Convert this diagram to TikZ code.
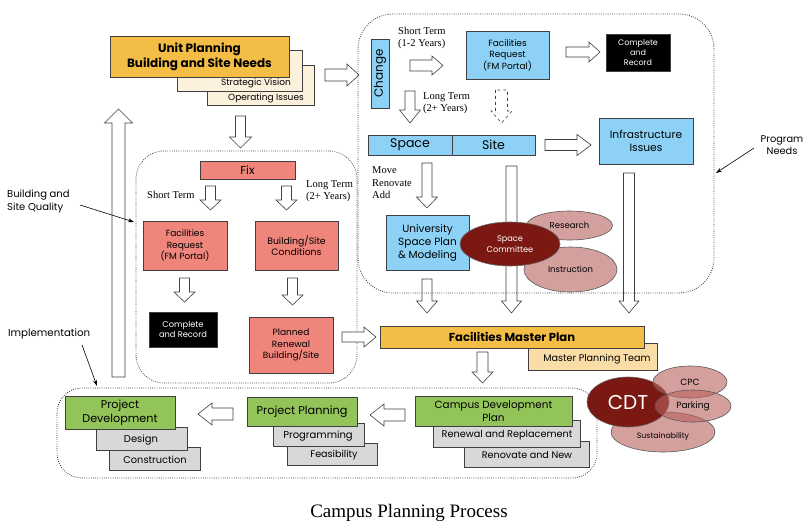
\documentclass[tikz,border=0pt]{standalone}
\usepackage{fontspec}
\setmainfont{Liberation Serif}
\setsansfont{Poppins}
\usetikzlibrary{shapes.geometric,shadows,arrows.meta}
\definecolor{orgA}{HTML}{F4BE46}
\definecolor{creamA}{HTML}{FCF1DD}
\definecolor{orgB}{HTML}{F9DCA6}
\definecolor{blueA}{HTML}{8DD2F6}
\definecolor{redA}{HTML}{F0857C}
\definecolor{greenA}{HTML}{93C45A}
\definecolor{grayA}{HTML}{D8D8D8}
\definecolor{darkR}{HTML}{7B1812}
\definecolor{lightR}{HTML}{B8625E}
\newcommand\fsz[2]{\fontsize{#1}{#2}\selectfont}
\newcommand\harr[7][]{%
  \pgfmathsetmacro\myhb{#3-#7*(#3-#2)/abs(#3-#2)}%
  \draw[barrow,#1] (#2,#4-#5) -- (\myhb,#4-#5) -- (\myhb,#4-#6) -- (#3,#4) -- (\myhb,#4+#6) -- (\myhb,#4+#5) -- (#2,#4+#5) -- cycle;}
\newcommand\varr[7][]{%
  \pgfmathsetmacro\myhb{#3-#7*(#3-#2)/abs(#3-#2)}%
  \draw[barrow,#1] (#4-#5,#2) -- (#4-#5,\myhb) -- (#4-#6,\myhb) -- (#4,#3) -- (#4+#6,\myhb) -- (#4+#5,\myhb) -- (#4+#5,#2) -- cycle;}
\tikzset{
  box/.style={draw=black!75, line width=0.6pt, align=center, inner sep=1pt, text=black,
    font=\sffamily\fsz{9}{11.5}, drop shadow={shadow xshift=1pt,shadow yshift=-1pt,opacity=0.25}},
  lbl/.style={inner sep=0pt, font=\sffamily\fsz{9}{10.5}, align=center},
  tlbl/.style={inner sep=0pt, font=\rmfamily\fsz{10.5}{12}, align=left, anchor=west},
  barrow/.style={draw=black!75, line width=0.6pt, fill=white},
  region/.style={draw=black!80, line width=0.8pt, dash pattern=on 0.8pt off 1.4pt},
  ellL/.style={ellipse, draw=black!65, line width=0.6pt, fill=lightR, fill opacity=0.6, text opacity=1, inner sep=0pt, font=\sffamily\fsz{8.5}{10}},
  ellD/.style={ellipse, draw=black!60, line width=0.6pt, fill=darkR, text=white, inner sep=0pt, align=center},
  thinarr/.style={draw=black, line width=0.6pt, -{Stealth[length=6pt,width=4pt]}}
}
\begin{document}
\begin{tikzpicture}[x=1pt,y=-1pt]
\fill[white] (0,0) rectangle (808,532);
\useasboundingbox (0,0) rectangle (808,532);

% ---------------- Unit planning group
\node[box, fill=creamA, minimum width=107, minimum height=40] (opiss) at (260.5,85) {};
\node[lbl] (opisst) at (266,98) {Operating Issues};
\node[box, fill=creamA, minimum width=125, minimum height=41] (stratv) at (239.5,70.5) {};
\node[lbl] (stratvt) at (256,83) {Strategic Vision};
\node[box, fill=orgA, minimum width=179, minimum height=41, font=\sffamily\bfseries\fsz{12}{15}] (unit) at (199.5,56.5) {Unit Planning\\Building and Site Needs};
\harr{325}{359}{75}{6}{11}{12}
\varr{116}{148}{240.5}{5}{11}{11}

% big up arrow
\varr{377}{109}{118.5}{6.5}{14}{14}

% ---------------- Top right region
\node[box, fill=blueA, minimum width=69, minimum height=18, rotate=90, font=\sffamily\fsz{12}{13}] (change) at (380,73.5) {Change};
\node[tlbl] (stt) at (398,38) {Short Term\\(1-2 Years)};
\harr{410}{443}{65.5}{5.5}{9.5}{11}
\node[box, fill=blueA, minimum width=83, minimum height=48] (frb) at (507.5,55) {Facilities\\Request\\(FM Portal)};
\harr{566}{600}{52}{5}{10}{11}
\node[box, fill=black, text=white, minimum width=64, minimum height=37, font=\sffamily\fsz{8}{10}] (cr1) at (638,52.5) {Complete\\and\\Record};
\varr{91}{123}{410}{5}{10.5}{13}
\node[tlbl] (ltt) at (423,103) {Long Term\\(2+ Years)};
\varr[dashed]{90}{123}{501.5}{6}{10.5}{12}
\node[box, fill=blueA, minimum width=84, minimum height=20, font=\sffamily\fsz{12.5}{13}] (space) at (410,145) {Space};
\node[box, fill=blueA, minimum width=83, minimum height=20, font=\sffamily\fsz{12.5}{13}] (site) at (493.5,145) {Site};
\harr{545}{591}{145}{5.5}{10.5}{14}
\node[box, fill=blueA, minimum width=94, minimum height=46, font=\sffamily\fsz{10.7}{13}] (infra) at (646,141) {Infrastructure\\Issues};
\node[tlbl, font=\rmfamily\fsz{10.5}{12.5}] (mra) at (372,183) {Move\\Renovate\\Add};
\varr{163}{208}{427}{5}{10.5}{11}
\varr{166}{313}{511.5}{5.5}{10}{12}
\varr{173}{313}{629}{5.5}{10}{12}
\node[box, fill=blueA, minimum width=83, minimum height=55, font=\sffamily\fsz{10.5}{13}] (usp) at (427.5,242.5) {University\\Space Plan\\\& Modeling};
\varr{279}{313}{427}{5}{10.5}{12}
\node[ellL, minimum width=86, minimum height=29] (research) at (569.5,225.5) {Research};
\node[ellL, minimum width=93, minimum height=45] (instr) at (570.5,269.5) {Instruction};
\node[ellD, minimum width=100, minimum height=44, font=\sffamily\fsz{8.2}{11}] (scom) at (510,244) {Space\\Committee};
\draw[region, rounded corners=35] (358,14) rectangle (714,293);
\node[lbl, font=\sffamily\fsz{9.8}{12}] (pneeds) at (782,145) {Program\\Needs};
\coordinate (pnS) at (754,148);
\coordinate (pnT) at (716,173);
\draw[thinarr] (pnS) -- (pnT);

% ---------------- Left region
\node[box, fill=redA, minimum width=95, minimum height=18, font=\sffamily\fsz{11.5}{13}] (fix) at (247.5,170) {Fix};
\node[tlbl] (stl) at (147,195) {Short Term};
\varr{186}{210}{210.5}{5}{10.5}{10}
\varr{186}{210}{286.5}{5}{10.5}{10}
\node[tlbl] (ltl) at (306,191) {Long Term\\(2+ Years)};
\node[box, fill=redA, minimum width=84, minimum height=49] (frr) at (185,245.5) {Facilities\\Request\\(FM Portal)};
\node[box, fill=redA, minimum width=83, minimum height=49, font=\sffamily\fsz{9.3}{11.5}] (bsc) at (296.5,245.5) {Building/Site\\Conditions};
\varr{278}{302}{184.5}{5}{10.5}{10}
\varr{278}{305}{292.5}{5}{10.5}{10}
\node[box, fill=black, text=white, minimum width=68, minimum height=35, font=\sffamily\fsz{8.3}{10}] (cr2) at (183,329.5) {Complete\\and Record};
\node[box, fill=redA, minimum width=84, minimum height=56] (prb) at (291,345) {Planned\\Renewal\\Building/Site};
\draw[region, rounded corners=28] (136,151) rectangle (357,383);
\harr{342}{376}{337}{5}{10}{12}

\node[lbl, font=\sffamily\fsz{10}{13}, align=left, anchor=west] (bsq) at (7,201) {Building and\\Site Quality};
\coordinate (bsqS) at (80,205);
\coordinate (bsqT) at (134,222);
\draw[thinarr] (bsqS) -- (bsqT);
\node[lbl, font=\sffamily\fsz{10.2}{12}, anchor=west] (impl) at (8,334) {Implementation};
\coordinate (implS) at (82,345);
\coordinate (implT) at (97,386);
\draw[thinarr] (implS) -- (implT);

% ---------------- Facilities master plan
\node[box, fill=orgB, minimum width=129, minimum height=27] (mpt) at (592.5,356.5) {};
\node[lbl, font=\sffamily\fsz{9.6}{11}] (mptt) at (597,359) {Master Planning Team};
\node[box, fill=orgA, minimum width=264, minimum height=22, font=\sffamily\bfseries\fsz{11.6}{13}] (fmp) at (512,337) {Facilities Master Plan};
\varr{352}{383}{482.5}{5.5}{10.5}{11}

% ---------------- Bottom region
\node[box, fill=grayA, minimum width=91, minimum height=23] (constr) at (154.5,458.5) {};
\node[lbl, font=\sffamily\fsz{9.8}{11}] (constrt) at (155,460) {Construction};
\node[box, fill=grayA, minimum width=91, minimum height=23] (design) at (141.5,438.5) {};
\node[lbl, font=\sffamily\fsz{10}{11}] (designt) at (141,440) {Design};
\node[box, fill=greenA, minimum width=110, minimum height=33, font=\sffamily\fsz{11.2}{14}] (pdev) at (120,412.5) {Project\\Development};
\harr{233}{198}{414}{6}{11}{14}
\node[box, fill=grayA, minimum width=90, minimum height=22] (feas) at (332,454) {};
\node[lbl, font=\sffamily\fsz{9.6}{11}] (feast) at (334,455) {Feasibility};
\node[box, fill=grayA, minimum width=91, minimum height=23] (progr) at (318.5,434.5) {};
\node[lbl, font=\sffamily\fsz{10}{11}] (progrt) at (318,436) {Programming};
\node[box, fill=greenA, minimum width=110, minimum height=29, font=\sffamily\fsz{11.3}{13}] (pplan) at (302,411.5) {Project Planning};
\harr{405}{370}{415}{6}{11}{14}
\node[box, fill=grayA, minimum width=125, minimum height=26] (rnew) at (526.5,454) {};
\node[lbl, font=\sffamily\fsz{9.6}{11}] (rnewt) at (527,455) {Renovate and New};
\node[box, fill=grayA, minimum width=147, minimum height=27] (rrep) at (506.5,433.5) {};
\node[lbl, font=\sffamily\fsz{9.7}{11}] (rrept) at (507,435) {Renewal and Replacement};
\node[box, fill=greenA, minimum width=157, minimum height=30, font=\sffamily\fsz{10.4}{13}] (cdp) at (493.5,411) {Campus Development\\Plan};

% CDT cluster
\node[ellL, minimum width=104, minimum height=40] (sust) at (663,432) {};
\node[ellD, minimum width=82, minimum height=50, font=\sffamily\fsz{20}{22}] (cdt) at (628,402) {CDT};
\node[ellL, minimum width=74, minimum height=32, font=\sffamily\fsz{9}{10}] (cpc) at (690,382) {CPC};
\node[ellL, minimum width=76, minimum height=32, font=\sffamily\fsz{9}{10}] (park) at (693,406) {Parking};
\node[lbl, font=\sffamily\fsz{7.8}{9}] (sustt) at (663,437) {Sustainability};
\draw[region, rounded corners=25] (57,388) rectangle (597,478);

% caption
\node[inner sep=0pt, font=\rmfamily\fsz{19}{22}] (cap) at (409,513) {Campus Planning Process};
\end{tikzpicture}
\end{document}
